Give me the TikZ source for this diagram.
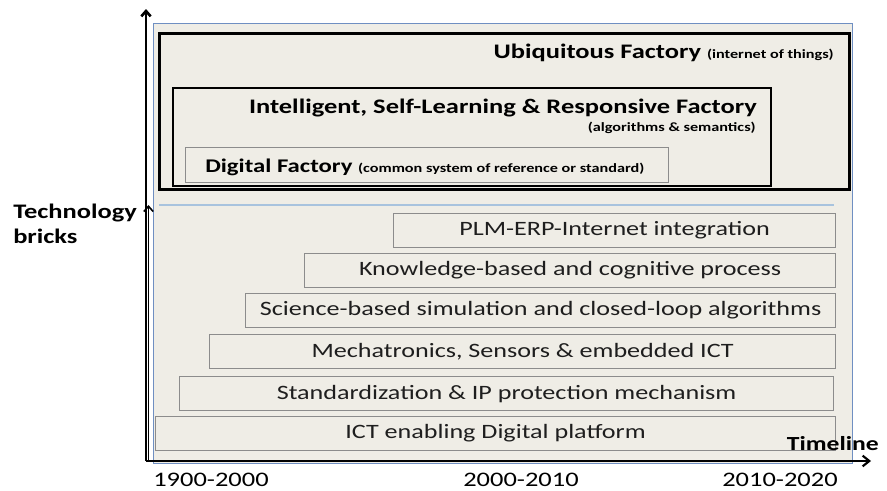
\documentclass[tikz,border=0pt]{standalone}
\usepackage{fontspec}
\setmainfont{Carlito}[FakeStretch=1.28]
\usetikzlibrary{arrows.meta,positioning}

\definecolor{panelfill}{HTML}{EFEDE6}
\definecolor{panelblue}{HTML}{6F8FC2}
\definecolor{brickgray}{HTML}{8C8C8C}
\definecolor{sepblue}{HTML}{A8C3DE}
\definecolor{inkgray}{HTML}{1E1E1E}

\newcommand{\smalltitlefont}{\bfseries\fontsize{9.5}{11}\selectfont}

\tikzset{
  brick/.style={draw=brickgray, line width=0.9pt, fill=panelfill, anchor=north west,
    inner sep=0pt, text=inkgray, font=\fontsize{15.3}{18}\selectfont},
  factory/.style={draw=black, fill=panelfill, anchor=north west, inner sep=0pt},
  title/.style={inner sep=0pt, font=\bfseries\fontsize{15.5}{18}\selectfont},
  smalltitle/.style={font=\smalltitlefont},
  axislabel/.style={inner sep=0pt, font=\bfseries\fontsize{15.5}{18.75}\selectfont},
  yearlabel/.style={inner sep=0pt, font=\fontsize{15.5}{18}\selectfont}
}

\begin{document}
\begin{tikzpicture}[x=0.75pt,y=-0.75pt]
    \useasboundingbox (0,0) rectangle (887,490);

    % Panel
    \node[draw=panelblue, line width=1pt, fill=panelfill, anchor=north west,
          minimum width=524.25pt, minimum height=330pt, inner sep=0pt] (panel) at (153,23) {};

    % Factory levels
    \node[factory, line width=2.4pt, minimum width=517.5pt, minimum height=117pt] (ubiq) at (158,32) {};
    \node[factory, line width=1.6pt, minimum width=448.5pt, minimum height=73.5pt] (intel) at (172,87) {};
    \node[factory, draw=brickgray, line width=0.9pt, minimum width=362.25pt, minimum height=26.25pt] (digital) at (185,147) {};

    \node[title, anchor=base east] (ubiqtxt) at (834,58) {Ubiquitous Factory {\smalltitlefont(internet of things)}};
    \node[title, anchor=base east] (inteltxt) at (757,113) {Intelligent, Self-Learning \& Responsive Factory};
    \node[inner sep=0pt, anchor=base east, smalltitle] (intelsub) at (756,131) {(algorithms \& semantics)};
    \node[title, anchor=base west, font=\bfseries\fontsize{14.5}{18}\selectfont] (digitaltxt) at (205,172)
        {Digital Factory {\smalltitlefont(common system of reference or standard)}};

    % Separator
    \coordinate (sepL) at (159,205);
    \coordinate (sepR) at (834,205);
    \draw[sepblue, line width=1pt] (sepL) -- (sepR);

    % Technology bricks
    \foreach \l/\t/\r/\txt [count=\i] in {
        393/213/835/{PLM-ERP-Internet integration},
        304/253/835/{Knowledge-based and cognitive process},
        245/293/835/{Science-based simulation and closed-loop algorithms},
        209/334/835/{Mechatronics, Sensors \& embedded ICT},
        179/376/833/{Standardization \& IP protection mechanism},
        155/416/835/{ICT enabling Digital platform}}
    {
        \node[brick, minimum width={(\r-\l)*0.75pt}, minimum height=25.5pt] (brick\i) at (\l,\t) {\txt};
    }

    % Axes
    \coordinate (origin) at (146,461);
    \coordinate (ytop) at (146,9);
    \coordinate (ymid) at (148.5,205);
    \coordinate (xend) at (871,461);
    \draw[line width=2pt, -{Straight Barb[length=4pt,width=7pt]}] (origin) -- (ytop);
    \draw[line width=1.2pt, -{Straight Barb[length=4pt,width=7pt]}] (148.5,461) -- (ymid);
    \draw[line width=1.6pt, -{Straight Barb[length=5pt,width=8pt]}] (origin) -- (xend);

    \node[axislabel, anchor=north west, align=left] (techlabel) at (13,204) {Technology\\bricks};
    \node[axislabel, anchor=base east, font=\bfseries\fontsize{15}{18}\selectfont] (timelabel) at (879,450) {Timeline};

    \node[yearlabel, anchor=base] (y1) at (211,486) {1900-2000};
    \node[yearlabel, anchor=base] (y2) at (521,486) {2000-2010};
    \node[yearlabel, anchor=base] (y3) at (780,486) {2010-2020};
\end{tikzpicture}
\end{document}
